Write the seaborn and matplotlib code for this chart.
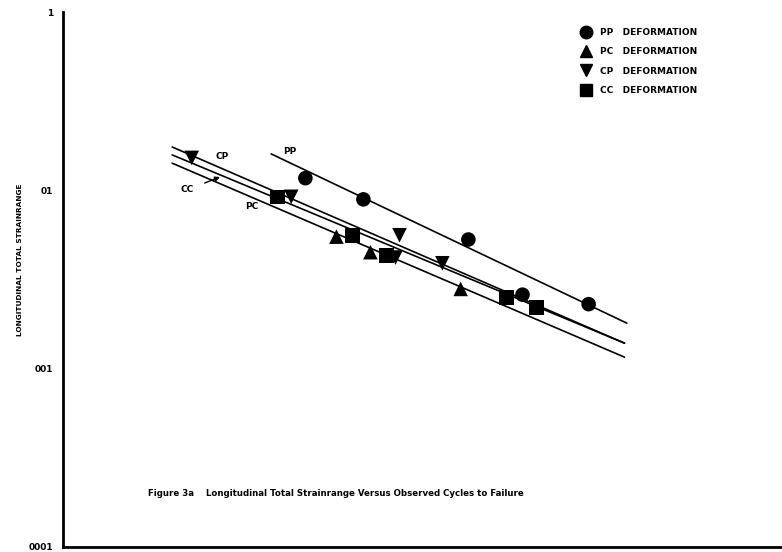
import matplotlib
matplotlib.use("Agg")
import matplotlib.pyplot as plt
from matplotlib.lines import Line2D
import pandas as pd
import seaborn as sns

# observed points (cycles to failure, total strainrange)
pp_cycles = [223, 469, 1800, 3600, 8400]
pp_strain = [0.0117, 0.0089, 0.0053, 0.0026, 0.0023]
pc_cycles = [332, 513, 1630]
pc_strain = [0.0055, 0.0045, 0.0028]
cp_cycles = [52, 186, 745, 708, 1290]
cp_strain = [0.0152, 0.0092, 0.0056, 0.0042, 0.0039]
cc_cycles = [156, 407, 630, 2940, 4300]
cc_strain = [0.0092, 0.0056, 0.0043, 0.0025, 0.0022]

# fitted lines, end points
line_names = ["PP", "CP", "CC", "PC"]
line_cycles = [[144, 13700], [40.5, 13300], [40.5, 13300], [40.5, 13300]]
line_strain = [[0.0160, 0.00180], [0.0175, 0.00139], [0.0158, 0.00139], [0.0142, 0.00116]]

yticks = [1e-1, 1e-2, 1e-3, 1e-4]
ytick_labels = ["1", "01", "001", "0001"]

pts = pd.concat([
    pd.DataFrame({"N": pp_cycles, "strain": pp_strain, "mode": "PP"}),
    pd.DataFrame({"N": pc_cycles, "strain": pc_strain, "mode": "PC"}),
    pd.DataFrame({"N": cp_cycles, "strain": cp_strain, "mode": "CP"}),
    pd.DataFrame({"N": cc_cycles, "strain": cc_strain, "mode": "CC"}),
], ignore_index=True)

lines = pd.concat([
    pd.DataFrame({"N": c, "strain": s, "mode": n})
    for n, c, s in zip(line_names, line_cycles, line_strain)
], ignore_index=True)

sns.set_style("white")
plt.rcParams["font.family"] = ["DejaVu Sans"]
plt.rcParams["text.color"] = "black"
plt.rcParams["xtick.color"] = "black"
plt.rcParams["ytick.color"] = "black"

fig = plt.figure(figsize=(7.82, 5.52), dpi=100)
ax = fig.add_axes([63 / 782, 5 / 552, 719 / 782, 535 / 552])

sns.lineplot(data=lines, x="N", y="strain", units="mode", estimator=None,
             color="black", linewidth=1.2, ax=ax, legend=False, sort=False)

markers = {"PP": "o", "PC": "^", "CP": "v", "CC": "s"}
sns.scatterplot(data=pts, x="N", y="strain", style="mode", markers=markers,
                color="black", s=110, edgecolor="black", linewidth=0,
                ax=ax, legend=False)

ax.set_xscale("log")
ax.set_yscale("log")
ax.set_xlim(10, 1e5)
ax.set_ylim(1e-4, 1e-1)

ax.set_yticks(yticks)
ax.set_yticklabels(ytick_labels, fontsize=6.5, fontweight="bold")
ax.minorticks_off()
ax.set_xticks([1e2, 1e3, 1e4])
ax.set_xticklabels([])
ax.tick_params(axis="both", direction="in", length=4, width=1.5, color="black")
ax.tick_params(axis="y", pad=7)

for side in ["top", "right"]:
    ax.spines[side].set_visible(False)
for side in ["left", "bottom"]:
    ax.spines[side].set_linewidth(2)
    ax.spines[side].set_color("black")

ax.set_xlabel("")
ax.set_ylabel("")
fig.text(20 / 782, 1 - 260 / 552, "LONGITUDINAL TOTAL STRAINRANGE", rotation=90,
         ha="center", va="center", fontsize=5.3, fontweight="bold")

# line labels
lab = dict(transform=ax.transAxes, fontsize=6.5, fontweight="bold", ha="center", va="center")
ax.text((222 - 63) / 719, 1 - (157 - 12) / 535, "CP", **lab)
ax.text((290 - 63) / 719, 1 - (152 - 12) / 535, "PP", **lab)
ax.text((252 - 63) / 719, 1 - (207 - 12) / 535, "PC", **lab)
ax.annotate("CC", xy=((220 - 63) / 719, 1 - (177 - 12) / 535),
            xytext=((187 - 63) / 719, 1 - (190 - 12) / 535),
            xycoords="axes fraction", textcoords="axes fraction",
            fontsize=6.5, fontweight="bold", ha="center", va="center",
            arrowprops=dict(arrowstyle="-|>", color="black", lw=1, shrinkA=6, shrinkB=0,
                            mutation_scale=7))

# legend
handles = [Line2D([], [], marker=markers[k], color="black", linestyle="none", markersize=9)
           for k in ["PP", "PC", "CP", "CC"]]
labels = [k + "   DEFORMATION" for k in ["PP", "PC", "CP", "CC"]]
fig.legend(handles, labels, loc="upper left", bbox_to_anchor=(580 / 782, 1 - 28 / 552),
           frameon=False, prop=dict(size=6.5, weight="bold"), handletextpad=0.85,
           labelspacing=1.14, borderpad=0, borderaxespad=0, handlelength=1.4)

fig.text(336 / 782, 1 - 493 / 552,
         "Figure 3a    Longitudinal Total Strainrange Versus Observed Cycles to Failure",
         ha="center", va="center", fontsize=6.2, fontweight="bold")

fig.savefig("out.png", dpi=100)
